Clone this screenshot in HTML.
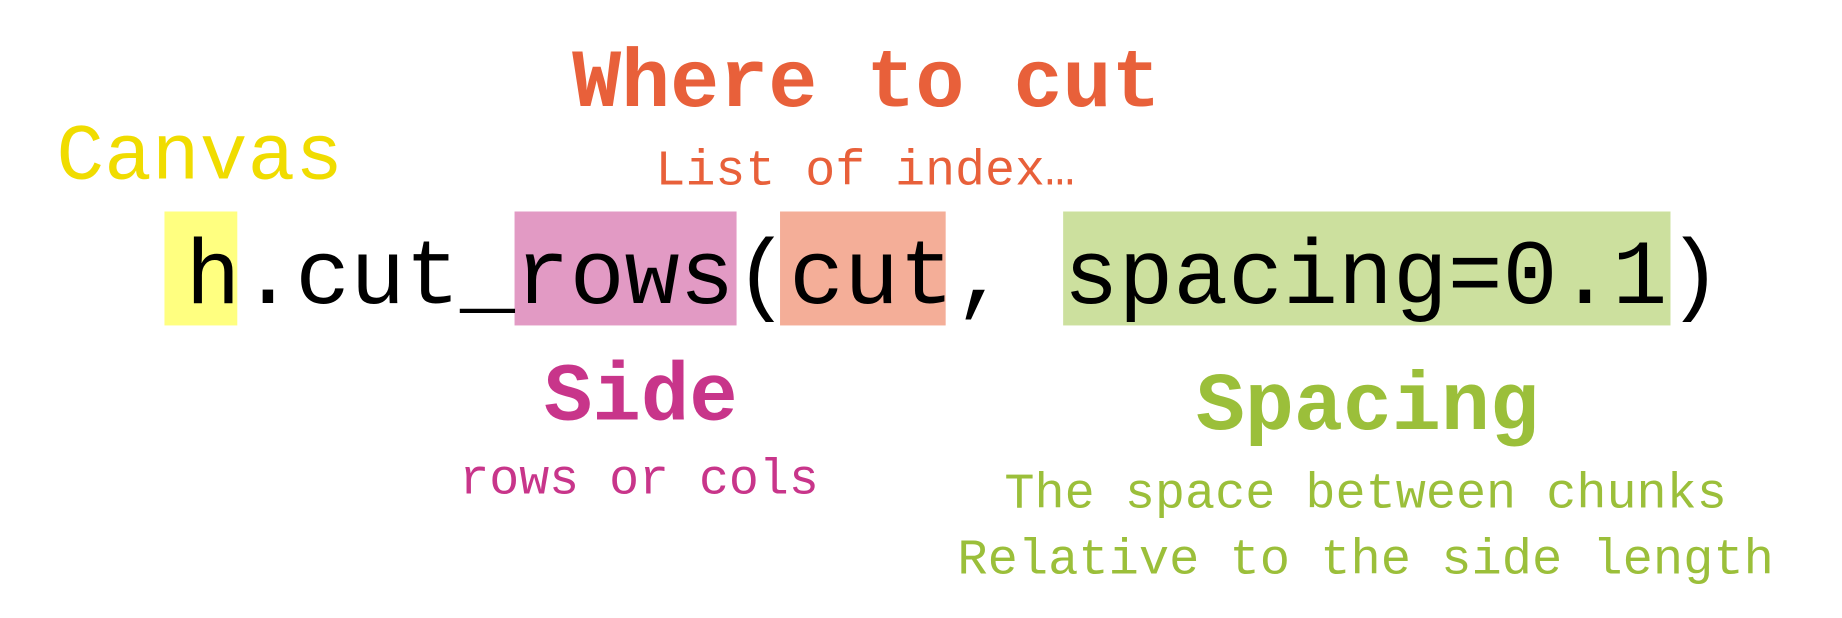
<!DOCTYPE html>
<html><head><meta charset="utf-8"><style>
html,body{margin:0;padding:0;background:#fff;width:1842px;height:618px;overflow:hidden}
svg{display:block}
text{font-family:"Liberation Mono","DejaVu Sans Mono",monospace}
</style></head><body>
<svg width="1842" height="618" viewBox="0 0 1568 526">
<rect x="0" y="0" width="1568" height="526" fill="#fff"/>
<rect x="140" y="180" width="62" height="97" fill="#FFFF80"/>
<rect x="438" y="180" width="189" height="97" fill="#E29AC4"/>
<rect x="664" y="180" width="141" height="97" fill="#F4AE98"/>
<rect x="905" y="180" width="517" height="97" fill="#CCE09E"/>
<text x="158" y="258" font-size="78" fill="#000" textLength="1308" lengthAdjust="spacingAndGlyphs">h.cut_rows(cut, spacing=0.1)</text>
<text x="48" y="152" font-size="68" fill="#F0DC00" textLength="244" lengthAdjust="spacingAndGlyphs">Canvas</text>
<text x="487" y="90" font-size="70" font-weight="bold" fill="#E8603A" textLength="501" lengthAdjust="spacingAndGlyphs">Where to cut</text>
<text x="558" y="157" font-size="43" fill="#E8603A" textLength="357" lengthAdjust="spacingAndGlyphs">List of index…</text>
<text x="463" y="357" font-size="70" font-weight="bold" fill="#C8358A" textLength="165" lengthAdjust="spacingAndGlyphs">Side</text>
<text x="391" y="420" font-size="43" fill="#C8358A" textLength="306" lengthAdjust="spacingAndGlyphs">rows or cols</text>
<text x="1018" y="365" font-size="70" font-weight="bold" fill="#9BBF3A" textLength="292" lengthAdjust="spacingAndGlyphs">Spacing</text>
<text x="855" y="432" font-size="43" fill="#9BBF3A" textLength="615" lengthAdjust="spacingAndGlyphs">The space between chunks</text>
<text x="815" y="488" font-size="43" fill="#9BBF3A" textLength="695" lengthAdjust="spacingAndGlyphs">Relative to the side length</text>
</svg>
</body></html>
